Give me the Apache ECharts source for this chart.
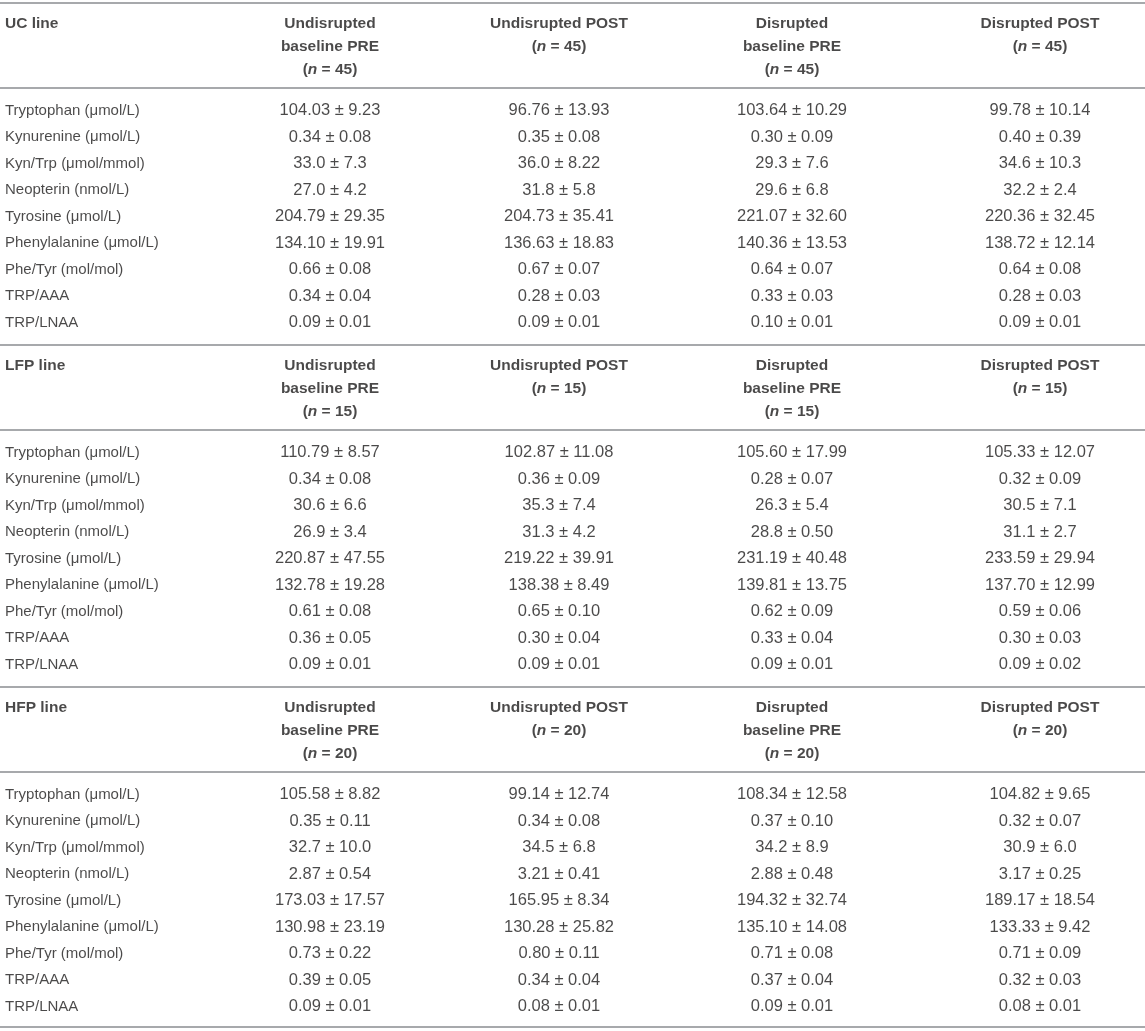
<!DOCTYPE html>
<html><head><meta charset="utf-8">
<script src="https://cdn.jsdelivr.net/npm/echarts@6/dist/echarts.min.js"></script>
<style>html,body{margin:0;padding:0;background:#fff}#c{width:1145px;height:1031px}</style>
</head><body><div id="c"></div><script>
// ---------- data ----------
const sectionNames = ['UC line', 'LFP line', 'HFP line'];
const sampleSizes = [45, 15, 20];
const columnTitles = ['Undisrupted\nbaseline PRE', 'Undisrupted POST', 'Disrupted\nbaseline PRE', 'Disrupted POST'];
const rowLabels = ['Tryptophan (μmol/L)', 'Kynurenine (μmol/L)', 'Kyn/Trp (μmol/mmol)', 'Neopterin (nmol/L)',
  'Tyrosine (μmol/L)', 'Phenylalanine (μmol/L)', 'Phe/Tyr (mol/mol)', 'TRP/AAA', 'TRP/LNAA'];

const ucUndisruptedPre  = ['104.03 ± 9.23','0.34 ± 0.08','33.0 ± 7.3','27.0 ± 4.2','204.79 ± 29.35','134.10 ± 19.91','0.66 ± 0.08','0.34 ± 0.04','0.09 ± 0.01'];
const ucUndisruptedPost = ['96.76 ± 13.93','0.35 ± 0.08','36.0 ± 8.22','31.8 ± 5.8','204.73 ± 35.41','136.63 ± 18.83','0.67 ± 0.07','0.28 ± 0.03','0.09 ± 0.01'];
const ucDisruptedPre    = ['103.64 ± 10.29','0.30 ± 0.09','29.3 ± 7.6','29.6 ± 6.8','221.07 ± 32.60','140.36 ± 13.53','0.64 ± 0.07','0.33 ± 0.03','0.10 ± 0.01'];
const ucDisruptedPost   = ['99.78 ± 10.14','0.40 ± 0.39','34.6 ± 10.3','32.2 ± 2.4','220.36 ± 32.45','138.72 ± 12.14','0.64 ± 0.08','0.28 ± 0.03','0.09 ± 0.01'];

const lfpUndisruptedPre  = ['110.79 ± 8.57','0.34 ± 0.08','30.6 ± 6.6','26.9 ± 3.4','220.87 ± 47.55','132.78 ± 19.28','0.61 ± 0.08','0.36 ± 0.05','0.09 ± 0.01'];
const lfpUndisruptedPost = ['102.87 ± 11.08','0.36 ± 0.09','35.3 ± 7.4','31.3 ± 4.2','219.22 ± 39.91','138.38 ± 8.49','0.65 ± 0.10','0.30 ± 0.04','0.09 ± 0.01'];
const lfpDisruptedPre    = ['105.60 ± 17.99','0.28 ± 0.07','26.3 ± 5.4','28.8 ± 0.50','231.19 ± 40.48','139.81 ± 13.75','0.62 ± 0.09','0.33 ± 0.04','0.09 ± 0.01'];
const lfpDisruptedPost   = ['105.33 ± 12.07','0.32 ± 0.09','30.5 ± 7.1','31.1 ± 2.7','233.59 ± 29.94','137.70 ± 12.99','0.59 ± 0.06','0.30 ± 0.03','0.09 ± 0.02'];

const hfpUndisruptedPre  = ['105.58 ± 8.82','0.35 ± 0.11','32.7 ± 10.0','2.87 ± 0.54','173.03 ± 17.57','130.98 ± 23.19','0.73 ± 0.22','0.39 ± 0.05','0.09 ± 0.01'];
const hfpUndisruptedPost = ['99.14 ± 12.74','0.34 ± 0.08','34.5 ± 6.8','3.21 ± 0.41','165.95 ± 8.34','130.28 ± 25.82','0.80 ± 0.11','0.34 ± 0.04','0.08 ± 0.01'];
const hfpDisruptedPre    = ['108.34 ± 12.58','0.37 ± 0.10','34.2 ± 8.9','2.88 ± 0.48','194.32 ± 32.74','135.10 ± 14.08','0.71 ± 0.08','0.37 ± 0.04','0.09 ± 0.01'];
const hfpDisruptedPost   = ['104.82 ± 9.65','0.32 ± 0.07','30.9 ± 6.0','3.17 ± 0.25','189.17 ± 18.54','133.33 ± 9.42','0.71 ± 0.09','0.32 ± 0.03','0.08 ± 0.01'];

const sectionColumns = [
  [ucUndisruptedPre, ucUndisruptedPost, ucDisruptedPre, ucDisruptedPost],
  [lfpUndisruptedPre, lfpUndisruptedPost, lfpDisruptedPre, lfpDisruptedPost],
  [hfpUndisruptedPre, hfpUndisruptedPost, hfpDisruptedPre, hfpDisruptedPost]
];

// ---------- layout (axis units = page pixels) ----------
const W = 1145, H = 1031;
const labelX = 5;
const colCenters = [330, 559, 792, 1040];
const tableTop = 3, sectionPitch = 342, tableBottom = 1027;
const headerTextTop = 9, headerSepOffset = 85, firstRowOffset = 107.5, rowPitch = 26.5;
const FONT = '"Liberation Sans", Arial, Helvetica, sans-serif';
const TXT = '#1d1b1c';
const RULE = '#a7a9ac';

const rowLabelData = [], sectionNameData = [], headerData = [], cellData = [], rules = [];
sectionNames.forEach((name, s) => {
  const top = tableTop + s * sectionPitch;
  rules.push(top, top + headerSepOffset);
  sectionNameData.push({ value: [labelX, top + headerTextTop], name: name });
  columnTitles.forEach((t, c) => {
    headerData.push({ value: [colCenters[c], top + headerTextTop], name: t + '\n({n|n} = ' + sampleSizes[s] + ')' });
  });
  rowLabels.forEach((lab, r) => {
    const y = top + firstRowOffset + r * rowPitch;
    rowLabelData.push({ value: [labelX, y], name: lab });
    sectionColumns[s].forEach((col, c) => {
      cellData.push({ value: [colCenters[c], y], name: col[r] });
    });
  });
});
rules.push(tableBottom);

function textSeries(data, align, vAlign, bold, fs, extra) {
  return Object.assign({
    type: 'scatter', data: data, symbolSize: 0.1, silent: true,
    itemStyle: { color: 'rgba(0,0,0,0)' },
    label: {
      show: true, position: 'inside', align: align, verticalAlign: vAlign,
      formatter: p => p.name, color: TXT, fontFamily: FONT, fontSize: fs,
      fontWeight: bold ? 'bold' : 'normal', lineHeight: 23,
      rich: { n: { fontStyle: 'italic', fontWeight: 'bold', fontFamily: FONT, fontSize: fs, color: TXT, lineHeight: 23 } }
    }
  }, extra || {});
}

const chart = echarts.init(document.getElementById('c'), null, { renderer: 'canvas' });
chart.setOption({
  animation: false,
  backgroundColor: '#fff',
  grid: { left: 0, right: 0, top: 0, bottom: 0, containLabel: false },
  xAxis: { type: 'value', min: 0, max: W, show: false },
  yAxis: { type: 'value', min: 0, max: H, inverse: true, show: false },
  series: [
    textSeries(rowLabelData, 'left', 'middle', false, 15, {
      markLine: {
        silent: true, symbol: 'none', label: { show: false },
        lineStyle: { color: RULE, width: 1.8, type: 'solid' },
        data: rules.map(v => ({ yAxis: v }))
      }
    }),
    textSeries(sectionNameData, 'left', 'top', true, 15.5),
    textSeries(headerData, 'center', 'top', true, 15.5),
    textSeries(cellData, 'center', 'middle', false, 16.5)
  ]
});
</script></body></html>
